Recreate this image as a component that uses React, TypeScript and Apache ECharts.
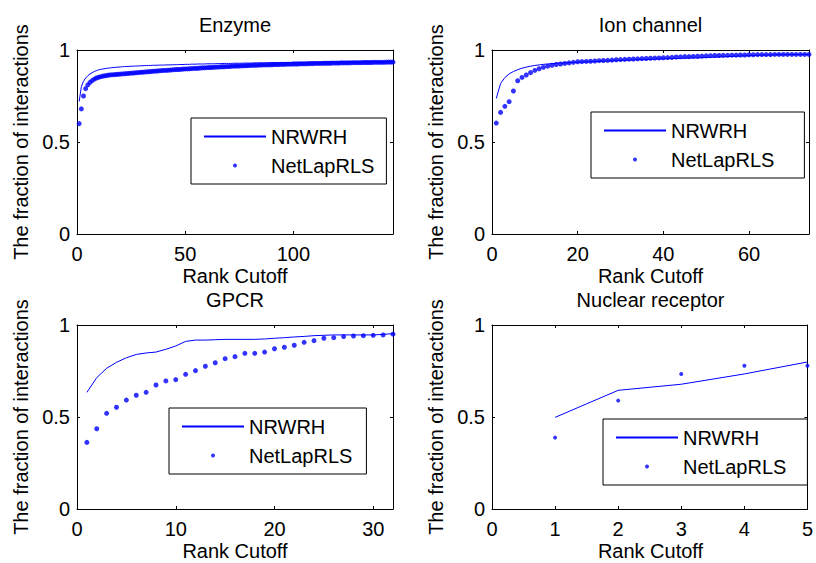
import React, { useEffect, useRef } from 'react';
import * as echarts from 'echarts';

// ---------------- data ----------------
const seriesNames = ['NRWRH', 'NetLapRLS'];
const panelTitles = ['Enzyme', 'Ion channel', 'GPCR', 'Nuclear receptor'];
const xAxisMax = [146, 74, 32, 5];
const xTickStep = [50, 20, 10, 1];
const yTicks = [0, 0.5, 1];

const enzymeNRWRH = [
  0.720, 0.800, 0.830, 0.848, 0.860, 0.870, 0.877, 0.883, 0.888, 0.892,
  0.895, 0.897, 0.899, 0.901, 0.902, 0.904, 0.905, 0.906, 0.907, 0.908,
  0.909, 0.910, 0.910, 0.911, 0.912, 0.912, 0.913, 0.913, 0.914, 0.914,
  0.915, 0.915, 0.916, 0.916, 0.917, 0.917, 0.917, 0.918, 0.918, 0.918,
  0.919, 0.919, 0.919, 0.920, 0.920, 0.920, 0.921, 0.921, 0.921, 0.922,
  0.922, 0.922, 0.923, 0.923, 0.923, 0.924, 0.924, 0.924, 0.924, 0.925,
  0.925, 0.925, 0.925, 0.926, 0.926, 0.926, 0.926, 0.927, 0.927, 0.927,
  0.927, 0.928, 0.928, 0.928, 0.928, 0.928, 0.929, 0.929, 0.929, 0.929,
  0.929, 0.930, 0.930, 0.930, 0.930, 0.930, 0.930, 0.931, 0.931, 0.931,
  0.931, 0.931, 0.931, 0.932, 0.932, 0.932, 0.932, 0.932, 0.932, 0.933,
  0.933, 0.933, 0.933, 0.933, 0.933, 0.933, 0.934, 0.934, 0.934, 0.934,
  0.934, 0.934, 0.934, 0.934, 0.935, 0.935, 0.935, 0.935, 0.935, 0.935,
  0.935, 0.935, 0.935, 0.936, 0.936, 0.936, 0.936, 0.936, 0.936, 0.936,
  0.936, 0.936, 0.937, 0.937, 0.937, 0.937, 0.937, 0.937, 0.937, 0.937,
  0.937, 0.937, 0.937, 0.938, 0.938, 0.938,
];
const enzymeNetLapRLS = [
  0.600, 0.680, 0.750, 0.790, 0.810, 0.824, 0.834, 0.842, 0.848, 0.852,
  0.855, 0.858, 0.860, 0.862, 0.864, 0.865, 0.866, 0.867, 0.868, 0.869,
  0.870, 0.871, 0.872, 0.873, 0.874, 0.875, 0.876, 0.877, 0.878, 0.879,
  0.880, 0.881, 0.882, 0.883, 0.884, 0.885, 0.886, 0.887, 0.888, 0.889,
  0.889, 0.890, 0.891, 0.892, 0.893, 0.894, 0.894, 0.895, 0.896, 0.897,
  0.897, 0.898, 0.899, 0.900, 0.900, 0.901, 0.902, 0.903, 0.903, 0.904,
  0.905, 0.905, 0.906, 0.907, 0.907, 0.908, 0.909, 0.909, 0.910, 0.910,
  0.911, 0.912, 0.912, 0.913, 0.913, 0.914, 0.914, 0.915, 0.915, 0.916,
  0.916, 0.917, 0.917, 0.918, 0.918, 0.919, 0.919, 0.919, 0.920, 0.920,
  0.921, 0.921, 0.921, 0.922, 0.922, 0.922, 0.923, 0.923, 0.923, 0.924,
  0.924, 0.924, 0.925, 0.925, 0.925, 0.925, 0.926, 0.926, 0.926, 0.927,
  0.927, 0.927, 0.927, 0.928, 0.928, 0.928, 0.928, 0.929, 0.929, 0.929,
  0.929, 0.930, 0.930, 0.930, 0.930, 0.930, 0.931, 0.931, 0.931, 0.931,
  0.931, 0.932, 0.932, 0.932, 0.932, 0.932, 0.933, 0.933, 0.933, 0.933,
  0.933, 0.933, 0.934, 0.934, 0.934, 0.934,
];

const ionNRWRH = [
  0.737, 0.818, 0.850, 0.870, 0.883, 0.893, 0.901, 0.907, 0.912, 0.916,
  0.919, 0.922, 0.924, 0.926, 0.928, 0.929, 0.930, 0.931, 0.932, 0.933,
  0.934, 0.935, 0.936, 0.937, 0.938, 0.939, 0.940, 0.941, 0.942, 0.943,
  0.944, 0.945, 0.946, 0.947, 0.948, 0.948, 0.949, 0.950, 0.951, 0.952,
  0.953, 0.953, 0.954, 0.955, 0.955, 0.956, 0.957, 0.957, 0.958, 0.959,
  0.960, 0.961, 0.962, 0.963, 0.964, 0.965, 0.966, 0.967, 0.968, 0.969,
  0.970, 0.971, 0.972, 0.972, 0.973, 0.973, 0.974, 0.974, 0.975, 0.975,
  0.975, 0.976, 0.976, 0.976,
];
const ionNetLapRLS = [
  0.603, 0.661, 0.694, 0.719, 0.777, 0.833, 0.851, 0.864, 0.877, 0.889,
  0.898, 0.906, 0.912, 0.917, 0.921, 0.924, 0.927, 0.930, 0.933, 0.936,
  0.937, 0.938, 0.939, 0.940, 0.942, 0.943, 0.944, 0.945, 0.947, 0.948,
  0.949, 0.950, 0.951, 0.952, 0.953, 0.954, 0.955, 0.956, 0.957, 0.958,
  0.959, 0.960, 0.962, 0.963, 0.964, 0.964, 0.965, 0.966, 0.967, 0.968,
  0.969, 0.970, 0.970, 0.971, 0.971, 0.972, 0.972, 0.973, 0.973, 0.974,
  0.974, 0.975, 0.975, 0.975, 0.975, 0.976, 0.976, 0.976, 0.976, 0.976,
  0.976, 0.976, 0.976, 0.976,
];

const gpcrNRWRH = [
  0.634, 0.714, 0.765, 0.797, 0.822, 0.840, 0.848, 0.853, 0.868, 0.886,
  0.911, 0.918, 0.918, 0.920, 0.922, 0.922, 0.922, 0.922, 0.924, 0.928,
  0.931, 0.935, 0.938, 0.942, 0.944, 0.946, 0.946, 0.946, 0.946, 0.946,
  0.949, 0.953,
];
const gpcrNetLapRLS = [
  0.362, 0.436, 0.520, 0.553, 0.592, 0.618, 0.634, 0.674, 0.696, 0.703,
  0.732, 0.752, 0.776, 0.795, 0.817, 0.828, 0.846, 0.846, 0.853, 0.871,
  0.879, 0.890, 0.906, 0.915, 0.928, 0.931, 0.937, 0.940, 0.942, 0.944,
  0.946, 0.950,
];

const nuclearNRWRH = [0.498, 0.645, 0.678, 0.734, 0.799];
const nuclearNetLapRLS = [0.388, 0.589, 0.734, 0.779, 0.779];

const panelData = [
  [enzymeNRWRH, enzymeNetLapRLS],
  [ionNRWRH, ionNetLapRLS],
  [gpcrNRWRH, gpcrNetLapRLS],
  [nuclearNRWRH, nuclearNetLapRLS],
];

// ---------------- layout / style ----------------
const FONT = '"Liberation Sans", Arial, Helvetica, sans-serif';
const FS = 20;
const BLUE = '#0000ff';
const grids = [
  { left: 77, top: 50, width: 316, height: 184 },
  { left: 492, top: 50, width: 317, height: 184 },
  { left: 77, top: 325, width: 316, height: 184 },
  { left: 492, top: 325, width: 317, height: 184 },
];
const dotSizes = [5, 5, 5, 4];
const legendBoxes = [
  { left: 191, top: 118, padR: 12 },
  { left: 591, top: 112, padR: 30 },
  { left: 169, top: 408, padR: 14 },
  { left: 603, top: 419, padR: 21 },
];

const toPairs = (vals: number[]) => vals.map((v, i) => [i + 1, v]);

export default function App() {
  const ref = useRef<HTMLDivElement>(null);

  useEffect(() => {
    if (!ref.current) return;
    const chart = echarts.init(ref.current, undefined, { renderer: 'svg' });

    const xAxes: any[] = [];
    const yAxes: any[] = [];
    const series: any[] = [];
    const legends: any[] = [];
    const graphics: any[] = [];

    const axisLine = { show: true, onZero: false, lineStyle: { color: '#000', width: 1 } };
    const axisTick = { show: true, inside: true, length: 3, lineStyle: { color: '#000', width: 1 } };

    grids.forEach((g, i) => {
      const maxIsTick = xAxisMax[i] % xTickStep[i] === 0;
      xAxes.push({
        type: 'value', gridIndex: i, position: 'bottom',
        min: 0, max: xAxisMax[i], interval: xTickStep[i],
        axisLine, axisTick,
        axisLabel: { show: true, color: '#000', fontSize: FS, fontFamily: FONT, margin: 10, showMaxLabel: maxIsTick, showMinLabel: true },
        splitLine: { show: false },
      });
      xAxes.push({
        type: 'value', gridIndex: i, position: 'top',
        min: 0, max: xAxisMax[i], interval: xTickStep[i],
        axisLine, axisTick, axisLabel: { show: false }, splitLine: { show: false },
      });
      yAxes.push({
        type: 'value', gridIndex: i, position: 'left',
        min: yTicks[0], max: yTicks[yTicks.length - 1], interval: yTicks[1] - yTicks[0],
        axisLine, axisTick,
        axisLabel: { show: true, color: '#000', fontSize: FS, fontFamily: FONT, margin: 7 },
        splitLine: { show: false },
      });
      yAxes.push({
        type: 'value', gridIndex: i, position: 'right',
        min: yTicks[0], max: yTicks[yTicks.length - 1], interval: yTicks[1] - yTicks[0],
        axisLine, axisTick, axisLabel: { show: false }, splitLine: { show: false },
      });

      const [nr, nl] = panelData[i];
      series.push({
        name: seriesNames[0], type: 'line', xAxisIndex: 2 * i, yAxisIndex: 2 * i,
        data: toPairs(nr), symbol: 'none', showSymbol: false,
        lineStyle: { color: BLUE, width: 1 }, itemStyle: { color: BLUE },
        z: 3,
      });
      series.push({
        name: seriesNames[1], type: 'scatter', xAxisIndex: 2 * i, yAxisIndex: 2 * i,
        data: toPairs(nl), symbol: 'circle', symbolSize: dotSizes[i],
        itemStyle: { color: BLUE }, z: 4,
      });

      const lb = legendBoxes[i];
      legends.push({
        show: true,
        data: [
          { name: seriesNames[0], itemStyle: { color: 'rgba(0,0,0,0)', opacity: 0, borderWidth: 0 } },
          { name: seriesNames[1] },
        ],
        orient: 'vertical',
        left: lb.left, top: lb.top,
        padding: [8.5, lb.padR, 8.5, 12],
        itemWidth: 62, itemHeight: 4, itemGap: 9,
        backgroundColor: '#fff', borderColor: '#000', borderWidth: 1, borderRadius: 0,
        selectedMode: false,
        textStyle: { color: '#000', fontSize: FS, fontFamily: FONT },
      });

      const cx = g.left + g.width / 2;
      const cy = g.top + g.height / 2;
      graphics.push({
        type: 'text', x: cx, y: g.top - 25,
        style: { text: panelTitles[i], fill: '#000', font: `${FS}px ${FONT}`, textAlign: 'center', textVerticalAlign: 'middle' },
      });
      graphics.push({
        type: 'text', x: cx, y: g.top + g.height + 42,
        style: { text: 'Rank Cutoff', fill: '#000', font: `${FS}px ${FONT}`, textAlign: 'center', textVerticalAlign: 'middle' },
      });
      graphics.push({
        type: 'text', x: g.left - 56, y: cy, rotation: Math.PI / 2,
        style: { text: 'The fraction of interactions', fill: '#000', font: `${FS}px ${FONT}`, textAlign: 'center', textVerticalAlign: 'middle' },
      });
    });

    chart.setOption({
      animation: false,
      backgroundColor: '#fff',
      grid: grids.map((g) => ({ ...g, containLabel: false, show: false })),
      xAxis: xAxes,
      yAxis: yAxes,
      legend: legends,
      series,
      graphic: graphics,
    });

    return () => chart.dispose();
  }, []);

  return (
    <div
      ref={ref}
      style={{ position: 'absolute', left: 0, top: 0, width: 816, height: 563, background: '#fff' }}
    />
  );
}
